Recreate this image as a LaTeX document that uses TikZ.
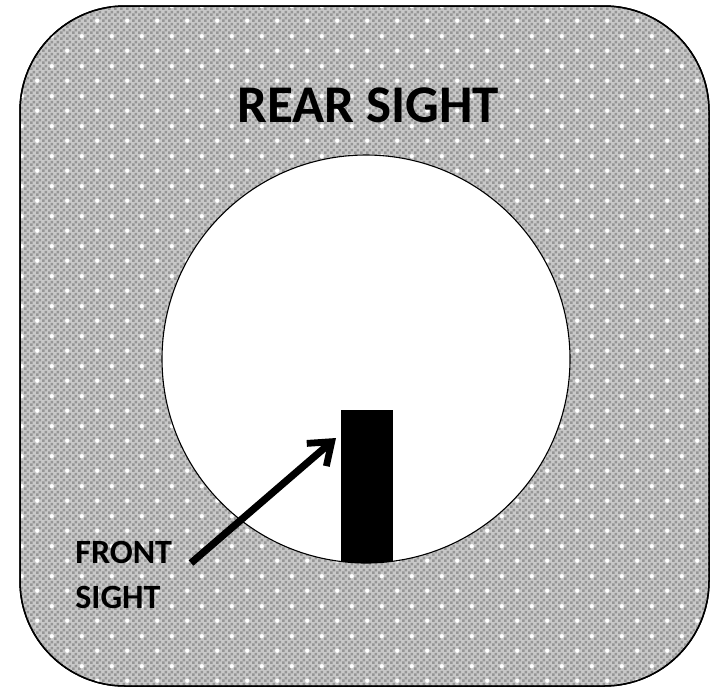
\documentclass[tikz,border=0pt]{standalone}
\usepackage{fontspec}
\setmainfont{Carlito}
\usepackage{tikz}
\usetikzlibrary{
  arrows.meta,
  patterns.meta
}
\usepackage{xcolor}
\definecolor{plateclr}{RGB}{200, 200, 200}
\definecolor{checkclr}{RGB}{150, 150, 150}
\definecolor{sparkclr}{RGB}{255, 255, 255}
% Mayda shaxmat naqshi
\tikzdeclarepattern{
  name=platecheck,
  type=uncolored,
  bottom left={(0pt,0pt)},
  top right={(3pt,3pt)},
  tile size={(3pt,3pt)},
  code={
    \fill (0pt,0pt) rectangle (1.5pt,1.5pt);
    \fill (1.5pt,1.5pt) rectangle (3pt,3pt);
  }
}
% Oq yulduzchalar
\tikzdeclarepattern{
  name=platespark,
  type=uncolored,
  bottom left={(0pt,0pt)},
  top right={(15pt,15pt)},
  tile size={(15pt,15pt)},
  code={
    \fill (3.75pt,3.75pt) circle (1.1pt);
    \fill (11.25pt,11.25pt) circle (1.1pt);
  }
}
\tikzset{
  % Orqa nishon plastinasi
  plate/.style      = {fill=plateclr, draw=black, line width=0.75pt, rounded corners=52.5pt},
  platetex/.style   = {pattern={platecheck}, pattern color=checkclr},
  platestar/.style  = {pattern={platespark}, pattern color=sparkclr},
  % Teshik va old nishon
  aperture/.style   = {fill=white, draw=black, line width=0.55pt},
  post/.style       = {fill=black},
  % Ko'rsatkich
  pointer/.style    = {-{Straight Barb[length=10pt, width=15pt, line width=3.4pt]}, line width=3.6pt, black},
  % Yozuvlar
  bigtitle/.style   = {font=\fontsize{26.5}{30}\selectfont\bfseries, inner sep=0pt},
  smalltitle/.style = {font=\fontsize{17}{22.5}\selectfont\bfseries, align=left, inner sep=0pt},
}
\begin{document}
\begin{tikzpicture}[x=0.5pt, y=-0.5pt]
  \useasboundingbox (0,0) rectangle (711,687);
  % Plastina
  \path[plate] (20,6) rectangle (709,686);
  \path[platetex, rounded corners=52.5pt] (20,6) rectangle (709,686);
  \path[platestar, rounded corners=52.5pt] (20,6) rectangle (709,686);
  \draw[line width=0.75pt, rounded corners=52.5pt] (20,6) rectangle (709,686);
  % Teshik
  \coordinate (holec) at (366,359);
  \draw[aperture] (holec) circle (102pt);
  % Old nishon ustuni
  \begin{scope}
    \clip (holec) circle (102pt);
    \fill[post] (341,410) rectangle (393,600);
  \end{scope}
  % Yozuvlar
  \node[bigtitle] (reartxt) at (368,105) {REAR SIGHT};
  \node[smalltitle, anchor=north west] (fronttxt) at (75,541) {FRONT\\SIGHT};
  % Ko'rsatkich
  \coordinate (arrowtail) at (191,563);
  \coordinate (arrowtip) at (336,438);
  \draw[pointer] (arrowtail) -- (arrowtip);
\end{tikzpicture}
\end{document}
